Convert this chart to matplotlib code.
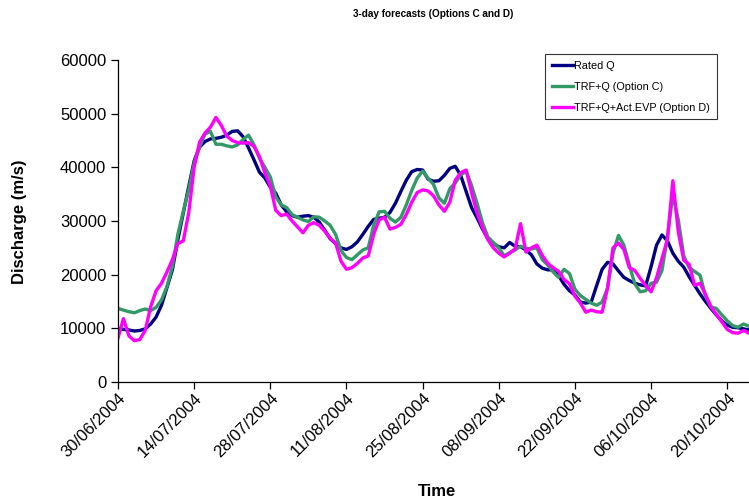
import datetime as dt

import matplotlib
matplotlib.use("Agg")
import matplotlib.pyplot as plt
import matplotlib.dates as mdates

plt.rcParams["font.family"] = ["Liberation Sans", "DejaVu Sans"]

start = dt.date(2004, 6, 30)

# daily discharge values (m/s), starting 30/06/2004
rated_q = [
    10000, 9800, 9700, 9500, 9600, 9900, 10800, 12100, 14300, 17600,
    20900, 26500, 31500, 36400, 41200, 43800, 44800, 45300, 45400, 45600,
    46000, 46700, 46800, 45700, 43600, 41400, 39100, 38000, 36300, 35200,
    33000, 31700, 31000, 30700, 30900, 31000, 30700, 29800, 28300, 26700,
    25800, 25000, 24700, 25200, 26100, 27500, 29000, 30300, 30500, 30700,
    31600, 33300, 35500, 37600, 39200, 39600, 39500, 37800, 37400, 37500,
    38500, 39800, 40200, 38500, 35500, 32500, 30600, 28500, 26700, 25800,
    25200, 25000, 26000, 25300, 25200, 24600, 23700, 22000, 21200, 20900,
    20900, 19800, 18200, 17000, 16200, 14900, 14700, 14900, 18000, 21000,
    22300, 22000, 20700, 19500, 18900, 18400, 18100, 17900, 21500, 25500,
    27400, 26300, 24000, 22500, 21400, 19600, 18000, 16400, 15000, 13700,
    12500, 11400, 10600, 10200, 10100, 9900, 9700,
]
trf_q_c = [
    13700, 13400, 13100, 12900, 13300, 13600, 13300, 13900, 15300, 17800,
    21500, 27500, 31800, 35800, 40800, 43800, 46200, 46700, 44300, 44300,
    44000, 43800, 44200, 45200, 46000, 44200, 41700, 40000, 38200, 34500,
    33000, 32500, 31200, 30700, 30200, 29900, 30800, 30700, 30000, 29200,
    27500, 24500, 23200, 22800, 23700, 24600, 25000, 29200, 31700, 31800,
    30500, 29800, 30700, 33000, 35700, 38000, 39300, 38000, 36800, 34300,
    33300, 36000, 37100, 38600, 39300, 36600, 33300, 29700, 27000, 26000,
    25000, 23500, 24100, 24600, 25300, 24900, 24800, 25000, 22800, 21800,
    20500, 19500, 21000, 20200, 17300, 16100, 15400, 14700, 14300, 14900,
    17500, 24000, 27300, 25500, 21800, 18300, 16800, 17000, 18400, 18600,
    20800, 27000, 35000, 30200, 23500, 21300, 20600, 19900, 16000, 14000,
    13700, 12500, 11400, 10500, 10200, 10800, 10400,
]
trf_q_evp_d = [
    8200, 11800, 8600, 7700, 7900, 9600, 14000, 17000, 18400, 20500,
    22800, 25800, 26300, 31500, 40000, 44700, 46400, 47500, 49300, 47800,
    45800, 45000, 44600, 44500, 44600, 43900, 42000, 39000, 36500, 32000,
    31000, 31300, 30000, 28900, 27800, 29200, 29700, 29200, 28100, 26800,
    25900, 22500, 21000, 21300, 22100, 23100, 23500, 27500, 30200, 30700,
    28500, 28800, 29400, 31200, 33500, 35300, 35800, 35600, 34700, 33000,
    31800, 33500, 37600, 39000, 39500, 35300, 31500, 28800, 26500, 25000,
    24000, 23300, 24000, 24800, 29500, 24200, 25000, 25500, 23600, 22100,
    21300, 20600, 19100, 18300, 16000, 14700, 13000, 13400, 13100, 13000,
    17500, 25000, 25900, 24700, 21300, 20800, 19300, 18000, 16800, 19400,
    23000, 26500, 37500, 28000, 22700, 21900, 18000, 18400, 16300, 14000,
    12600, 11200, 9800, 9200, 9100, 9600, 9100,
]
dates = [start + dt.timedelta(days=i) for i in range(len(rated_q))]
tick_dates = [start + dt.timedelta(days=14 * i) for i in range(9)]

fig = plt.figure(figsize=(7.49, 5.01), dpi=100)
ax = fig.add_axes([118 / 749, 1 - 382 / 501, 631 / 749, 322 / 501])

ax.plot(dates, rated_q, color="#000080", lw=2.4, label="Rated Q")
ax.plot(dates, trf_q_c, color="#339966", lw=2.4, label="TRF+Q (Option C)")
ax.plot(dates, trf_q_evp_d, color="#FF00FF", lw=2.4,
        label="TRF+Q+Act.EVP (Option D)")

ax.set_xlim(dates[0], dates[-1])
ax.set_ylim(0, 60000)
ax.set_yticks(range(0, 60001, 10000))
ax.set_xticks(tick_dates)
ax.xaxis.set_major_formatter(mdates.DateFormatter("%d/%m/%Y"))

for side in ("top", "right"):
    ax.spines[side].set_visible(False)
for side in ("left", "bottom"):
    ax.spines[side].set_linewidth(0.9)
ax.tick_params(direction="out", length=5, width=0.9, labelsize=12)
ax.tick_params(axis="x", pad=1)
plt.setp(ax.get_xticklabels(), rotation=45, ha="right",
         rotation_mode="anchor")

fig.text(433 / 749, 1 - 14 / 501, "3-day forecasts (Options C and D)",
         ha="center", va="center", fontsize=7.2, fontweight="bold")
fig.text(20 / 749, 1 - 222 / 501, "Discharge (m/s)", rotation=90,
         ha="center", va="center", fontsize=12, fontweight="bold")
fig.text(437 / 749, 1 - 491 / 501, "Time", ha="center", va="center",
         fontsize=12, fontweight="bold")

leg = ax.legend(loc="upper right", bbox_to_anchor=(722 / 749, 1 - 49 / 501),
                bbox_transform=fig.transFigure, fontsize=7.8, fancybox=False,
                handlelength=2.0, handletextpad=0.1, labelspacing=1.0,
                borderpad=0.6)
leg.get_frame().set_edgecolor("black")
leg.get_frame().set_linewidth(0.8)

fig.savefig("out.png", dpi=100)
